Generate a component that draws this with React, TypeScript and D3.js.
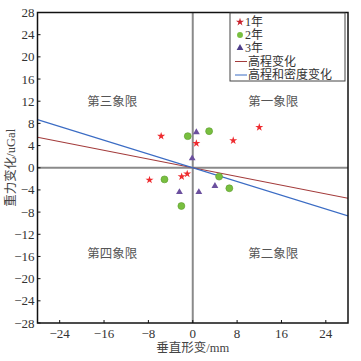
import React from 'react';
import * as d3 from 'd3';

const W = 361;
const H = 361;
const margin = { top: 12.5, right: 13, bottom: 38, left: 37.5 };

const xTicks = [-24, -16, -8, 0, 8, 16, 24];
const yTicks = [28, 24, 20, 16, 12, 8, 4, 0, -4, -8, -12, -16, -20, -24, -28];

// 1年 (stars)
const year1X = [-5.7, 0.65, 7.3, 12.0, -7.8, -2.0, -1.0];
const year1Y = [5.7, 4.4, 4.9, 7.3, -2.2, -1.6, -1.1];
// 2年 (circles)
const year2X = [-0.9, 2.95, -5.1, 4.75, 6.6, -2.05];
const year2Y = [5.7, 6.6, -2.1, -1.6, -3.7, -6.9];
// 3年 (triangles)
const year3X = [0.65, -0.1, -2.4, 1.1, 4.0];
const year3Y = [6.4, 1.7, -4.4, -4.4, -3.3];

// fitted lines y = k * x
const slopeElev = -0.197;
const slopeElevDens = -0.31;

const serif = '"Liberation Serif", "Noto Sans CJK SC", serif';

const App = () => {
  const x = d3.scaleLinear().domain([-28, 28]).range([margin.left, W - margin.right]);
  const y = d3.scaleLinear().domain([-28, 28]).range([H - margin.bottom, margin.top]);

  const star = d3.symbol().type(d3.symbolStar).size(20)();
  const circle = d3.symbol().type(d3.symbolCircle).size(38)();
  const tri = d3.symbol().type(d3.symbolTriangle).size(20)();

  const lineFor = (k: number) =>
    d3.line<number[]>().x((d) => x(d[0])).y((d) => y(d[1]))([
      [-28, -28 * k],
      [28, 28 * k],
    ]);

  const x0 = x.range()[0];
  const x1 = x.range()[1];
  const y0 = y.range()[1];
  const y1 = y.range()[0];

  const lx = 230;
  const ly = 13;
  const rows = [9, 22, 35, 48.5, 62];

  return (
    <svg width={W} height={H} style={{ position: 'absolute', left: 0, top: 0 }}>
      <rect width={W} height={H} fill="white" />
      <defs>
        <clipPath id="plot">
          <rect x={x0} y={y0} width={x1 - x0} height={y1 - y0} />
        </clipPath>
      </defs>

      {/* zero lines */}
      <line x1={x(0)} x2={x(0)} y1={y0} y2={y1} stroke="#8a8a8a" strokeWidth={2} />
      <line x1={x0} x2={x1} y1={y(0)} y2={y(0)} stroke="#8a8a8a" strokeWidth={2} />

      {/* quadrant labels */}
      <g fontFamily={serif} fontSize={12.5} fill="#555" textAnchor="middle">
        <text x={x(-14.5)} y={y(12)} dy="0.35em">第三象限</text>
        <text x={x(14.5)} y={y(12)} dy="0.35em">第一象限</text>
        <text x={x(-14.5)} y={y(-15.5)} dy="0.35em">第四象限</text>
        <text x={x(14.5)} y={y(-15.5)} dy="0.35em">第二象限</text>
      </g>

      <g clipPath="url(#plot)">
        <path d={lineFor(slopeElev) || ''} stroke="#a33b3b" strokeWidth={1.1} fill="none" />
        <path d={lineFor(slopeElevDens) || ''} stroke="#3b6cc4" strokeWidth={1.1} fill="none" />
      </g>

      {year1X.map((v, i) => (
        <path key={'s' + i} d={star || ''} transform={`translate(${x(v)},${y(year1Y[i])})`} fill="#ee2b2f" />
      ))}
      {year2X.map((v, i) => (
        <path key={'c' + i} d={circle || ''} transform={`translate(${x(v)},${y(year2Y[i])})`} fill="#78bf3f" stroke="#5a9a2c" strokeWidth={0.6} />
      ))}
      {year3X.map((v, i) => (
        <path key={'t' + i} d={tri || ''} transform={`translate(${x(v)},${y(year3Y[i])})`} fill="#6b4f9e" />
      ))}

      {/* frame */}
      <rect x={x0} y={y0} width={x1 - x0} height={y1 - y0} fill="none" stroke="#111" strokeWidth={1.5} />

      {/* ticks */}
      <g fontFamily={serif} fontSize={13} fill="#333">
        {yTicks.map((t) => (
          <g key={'y' + t}>
            <line x1={x0} x2={x0 + 3} y1={y(t)} y2={y(t)} stroke="#111" strokeWidth={1} />
            <text x={x0 - 3} y={y(t)} dy="0.35em" textAnchor="end">
              {t < 0 ? '\u2212' + Math.abs(t) : t}
            </text>
          </g>
        ))}
        {xTicks.map((t) => (
          <g key={'x' + t}>
            <line x1={x(t)} x2={x(t)} y1={y1} y2={y1 - 3} stroke="#111" strokeWidth={1} />
            <text x={x(t)} y={y1 + 15} textAnchor="middle">
              {t < 0 ? '\u2212' + Math.abs(t) : t}
            </text>
          </g>
        ))}
      </g>

      {/* axis titles */}
      <text x={x(0)} y={352} textAnchor="middle" fontFamily={serif} fontSize={12.5} fill="#444">
        垂直形变/mm
      </text>
      <text
        transform={`translate(15,${y(0)}) rotate(-90)`}
        textAnchor="middle"
        fontFamily={serif}
        fontSize={12.5}
        fill="#444"
      >
        重力变化/uGal
      </text>

      {/* legend */}
      <g fontFamily={serif} fontSize={12} fill="#333">
        <rect x={lx} y={ly} width={115} height={68} fill="white" stroke="#444" strokeWidth={1} />
        <path d={star || ''} transform={`translate(${lx + 10},${ly + rows[0]})`} fill="#c8202a" />
        <text x={lx + 15} y={ly + rows[0]} dy="0.35em">1年</text>
        <path d={circle || ''} transform={`translate(${lx + 10},${ly + rows[1]}) scale(0.85)`} fill="#78bf3f" />
        <text x={lx + 15} y={ly + rows[1]} dy="0.35em">2年</text>
        <path d={tri || ''} transform={`translate(${lx + 10},${ly + rows[2]})`} fill="#4e3e8a" />
        <text x={lx + 15} y={ly + rows[2]} dy="0.35em">3年</text>
        <line x1={lx + 5} x2={lx + 17} y1={ly + rows[3]} y2={ly + rows[3]} stroke="#a33b3b" strokeWidth={1} />
        <text x={lx + 18} y={ly + rows[3]} dy="0.35em">高程变化</text>
        <line x1={lx + 5} x2={lx + 17} y1={ly + rows[4]} y2={ly + rows[4]} stroke="#3b6cc4" strokeWidth={1} />
        <text x={lx + 18} y={ly + rows[4]} dy="0.35em">高程和密度变化</text>
      </g>
    </svg>
  );
};

export default App;
